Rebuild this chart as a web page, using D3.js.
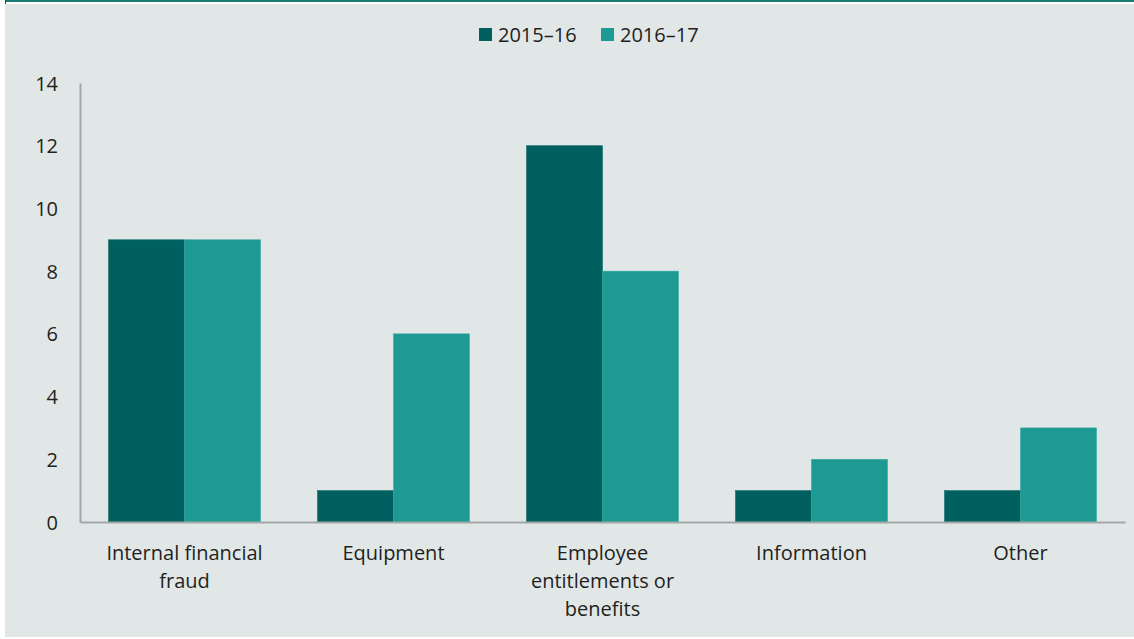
<!DOCTYPE html>
<html>
<head>
<meta charset="utf-8">
<script src="https://cdn.jsdelivr.net/npm/d3@7"></script>
<style>
  html, body { margin: 0; padding: 0; background: #ffffff; }
  svg { display: block; }
  text { font-family: "Open Sans", Lato, sans-serif; fill: #231f20; }
</style>
</head>
<body>
<svg id="chart" width="1134" height="639"></svg>
<script>
// Fraud incidents by category, two financial years
const categories = [
  ["Internal financial", "fraud"],
  ["Equipment"],
  ["Employee", "entitlements or", "benefits"],
  ["Information"],
  ["Other"]
];
const seriesNames = ["2015–16", "2016–17"];
const values2015 = [9, 1, 12, 1, 1];
const values2016 = [9, 6, 8, 2, 3];
const yTicks = [0, 2, 4, 6, 8, 10, 12, 14];
const colors = ["#006060", "#1c9a93"];

const W = 1134, H = 639;
const FONT = "'Open Sans', Lato, sans-serif";
const FS = 20;
const svg = d3.select("#chart");

// panel background with teal top rule
svg.append("rect").attr("x", 5).attr("y", 0).attr("width", W - 5).attr("height", 637).attr("fill", "#e1e7e7");
svg.append("rect").attr("x", 5).attr("y", 2).attr("width", W - 5).attr("height", 2).attr("fill", "#ffffff");
svg.append("rect").attr("x", 5).attr("y", 0).attr("width", W - 5).attr("height", 2).attr("fill", "#1a7b76");
svg.append("rect").attr("x", 5).attr("y", 0).attr("width", 1).attr("height", 4).attr("fill", "#1a4f4c");

const plot = { left: 80, right: 1125, top: 83, bottom: 522 };

const x = d3.scaleBand()
  .domain(d3.range(categories.length))
  .range([plot.left, plot.right])
  .paddingInner(0.273)
  .paddingOuter(0.1365);

const xs = d3.scaleBand().domain([0, 1]).range([0, x.bandwidth()]);

const y = d3.scaleLinear().domain([0, 14]).range([plot.bottom, plot.top]);

const series = [values2015, values2016];

// bars
series.forEach((vals, si) => {
  svg.append("g").selectAll("rect")
    .data(vals)
    .join("rect")
    .attr("x", (d, i) => x(i) + xs(si))
    .attr("y", d => y(d))
    .attr("width", xs.bandwidth())
    .attr("height", d => y(0) - y(d))
    .attr("fill", colors[si])
    .attr("stroke", si === 0 ? "#0b6b69" : "#3aa8a2")
    .attr("stroke-width", 0.6);
});

// y axis
const yAxis = d3.axisLeft(y).tickValues(yTicks).tickSize(0).tickPadding(22).tickFormat(d3.format("d"));
const gy = svg.append("g").attr("transform", `translate(${plot.left},0)`).call(yAxis);
gy.select(".domain").attr("stroke", "#a3a7a8").attr("stroke-width", 2);
gy.selectAll("text").attr("font-size", FS).attr("dy", "0.35em")
  .style("font-family", FONT).attr("fill", "#231f20");

// x baseline
const xAxis = d3.axisBottom(x).tickSize(0).tickFormat("");
const gx = svg.append("g").attr("transform", `translate(0,${plot.bottom})`).call(xAxis);
gx.select(".domain").attr("stroke", "#a3a7a8").attr("stroke-width", 2);

// category labels
const lbl = svg.append("g");
categories.forEach((lines, i) => {
  const t = lbl.append("text")
    .attr("x", x(i) + x.bandwidth() / 2)
    .attr("y", 560)
    .attr("text-anchor", "middle")
    .attr("font-size", FS);
  lines.forEach((ln, k) => {
    t.append("tspan").attr("x", x(i) + x.bandwidth() / 2).attr("dy", k === 0 ? 0 : 28).text(ln);
  });
});

// legend
const legend = svg.append("g");
const legendPos = [479, 601];
seriesNames.forEach((name, i) => {
  legend.append("rect").attr("x", legendPos[i]).attr("y", 28).attr("width", 13).attr("height", 13).attr("fill", colors[i]);
  legend.append("text").attr("x", legendPos[i] + 19).attr("y", 42).attr("font-size", FS).text(name);
});
</script>
</body>
</html>
